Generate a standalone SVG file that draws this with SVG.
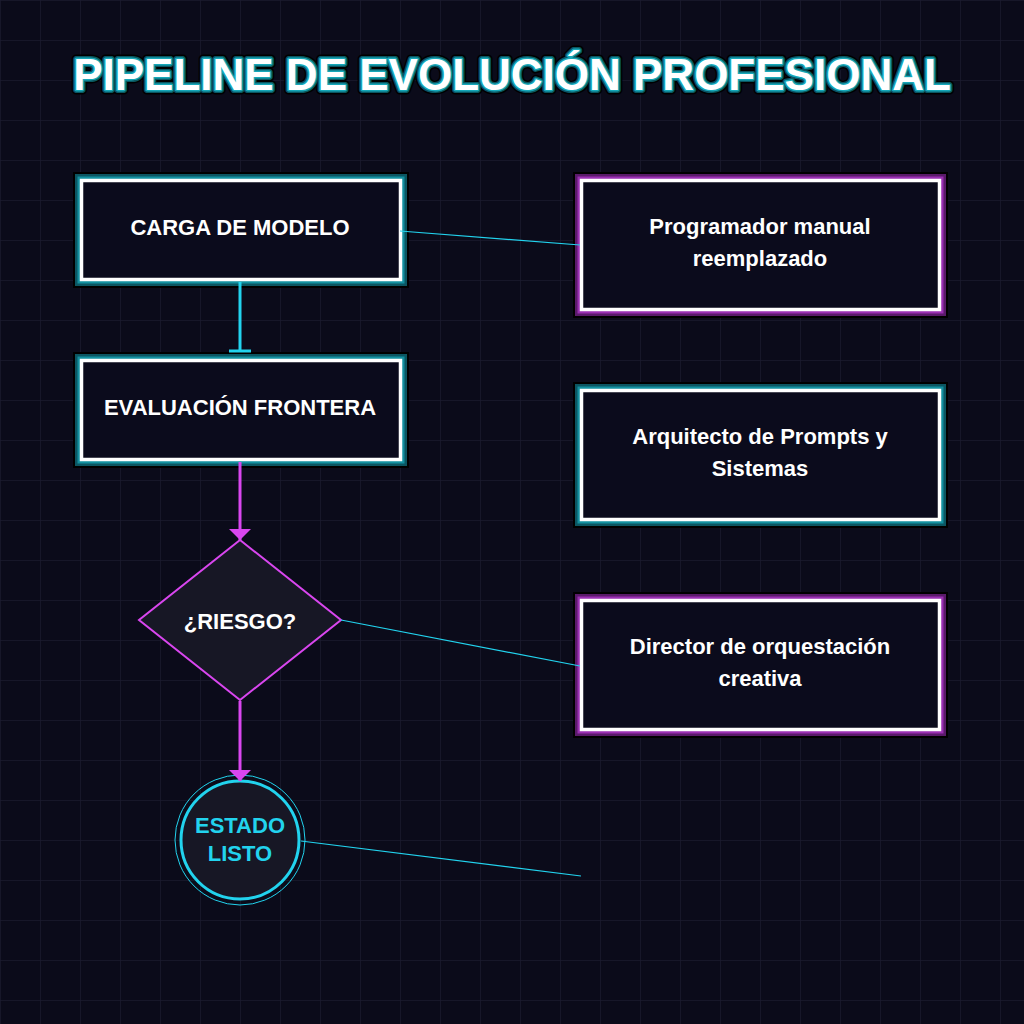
<svg xmlns="http://www.w3.org/2000/svg" xmlns:xlink="http://www.w3.org/1999/xlink" width="1024" height="1024" viewBox="0 0 1024 1024">
<defs>
<pattern id="grid" width="40" height="40" patternUnits="userSpaceOnUse">
<path d="M40 0 L0 0 0 40" fill="none" stroke="#1a1a2e" stroke-width="1.5"/>
</pattern>
<marker id="tee" markerWidth="22" markerHeight="4" refX="11" refY="2" markerUnits="userSpaceOnUse" viewBox="0 0 22 4">
<rect x="0" y="0.5" width="22" height="3" fill="#22d3ee"/>
</marker>
<marker id="arrowM" markerWidth="22" markerHeight="12" refX="11" refY="11" markerUnits="userSpaceOnUse" viewBox="0 0 22 12">
<path d="M0 0 L22 0 L11 11 Z" fill="#d946ef"/>
</marker>
<text id="titleText" x="512" y="90" text-anchor="middle">PIPELINE DE EVOLUCIÓN PROFESIONAL</text>
</defs>
<style>
.title{font-family:"Liberation Sans",Arial,sans-serif;font-weight:bold;font-size:44px}
.lbl{font-family:"Liberation Sans",Arial,sans-serif;font-weight:bold;font-size:22px;fill:#ffffff;text-anchor:middle;dominant-baseline:central}
.o1{fill:none;stroke:#000000;stroke-width:17}
.t2{fill:none;stroke:#0b5662;stroke-width:13}
.t3{fill:none;stroke:#13909f;stroke-width:8}
.p2{fill:none;stroke:#5a1a6a;stroke-width:13}
.p3{fill:none;stroke:#9a2fb2;stroke-width:8}
.in{fill:#0b0b1c;stroke:#ffffff;stroke-width:3.5}
.thin{fill:none;stroke:#22d3ee;stroke-width:1.2}
</style>
<rect width="1024" height="1024" fill="#0b0b1a"/>
<rect width="1024" height="1024" fill="url(#grid)"/>

<g id="title" class="title">
<use xlink:href="#titleText" fill="#000" stroke="#000" stroke-width="9" stroke-linejoin="round"/>
<use xlink:href="#titleText" fill="#0b5662" stroke="#0b5662" stroke-width="6" stroke-linejoin="round"/>
<use xlink:href="#titleText" fill="#16a7b8" stroke="#16a7b8" stroke-width="3" stroke-linejoin="round"/>
<use xlink:href="#titleText" fill="#ffffff"/>
</g>

<g id="carga">
<rect class="o1" x="81.5" y="180.5" width="319" height="99"/>
<rect class="t2" x="81.5" y="180.5" width="319" height="99"/>
<rect class="t3" x="81.5" y="180.5" width="319" height="99"/>
<rect class="in" x="81.5" y="180.5" width="319" height="99"/>
<text class="lbl" x="240" y="227">CARGA DE MODELO</text>
</g>

<g id="evaluacion">
<rect class="o1" x="81.5" y="360.5" width="319" height="99"/>
<rect class="t2" x="81.5" y="360.5" width="319" height="99"/>
<rect class="t3" x="81.5" y="360.5" width="319" height="99"/>
<rect class="in" x="81.5" y="360.5" width="319" height="99"/>
<text class="lbl" x="240" y="407">EVALUACIÓN FRONTERA</text>
</g>

<g id="riesgo">
<polygon points="240,540 341,620 240,700 139,620" fill="#171725" stroke="#d946ef" stroke-width="2"/>
<text class="lbl" x="240" y="621">¿RIESGO?</text>
</g>

<g id="estado">
<circle cx="240" cy="840" r="65" fill="none" stroke="#22d3ee" stroke-width="1"/>
<circle cx="240" cy="840" r="59" fill="#171725" stroke="#22d3ee" stroke-width="3"/>
<text class="lbl" x="240" y="825" style="fill:#22d3ee">ESTADO</text>
<text class="lbl" x="240" y="853" style="fill:#22d3ee">LISTO</text>
</g>

<g id="programador">
<rect class="o1" x="581.5" y="180.5" width="358" height="129"/>
<rect class="p2" x="581.5" y="180.5" width="358" height="129"/>
<rect class="p3" x="581.5" y="180.5" width="358" height="129"/>
<rect class="in" x="581.5" y="180.5" width="358" height="129"/>
<text class="lbl" x="760" y="226">Programador manual</text>
<text class="lbl" x="760" y="258">reemplazado</text>
</g>

<g id="arquitecto">
<rect class="o1" x="581.5" y="390.5" width="358" height="129"/>
<rect class="t2" x="581.5" y="390.5" width="358" height="129"/>
<rect class="t3" x="581.5" y="390.5" width="358" height="129"/>
<rect class="in" x="581.5" y="390.5" width="358" height="129"/>
<text class="lbl" x="760" y="436">Arquitecto de Prompts y</text>
<text class="lbl" x="760" y="468">Sistemas</text>
</g>

<g id="director">
<rect class="o1" x="581.5" y="600.5" width="358" height="129"/>
<rect class="p2" x="581.5" y="600.5" width="358" height="129"/>
<rect class="p3" x="581.5" y="600.5" width="358" height="129"/>
<rect class="in" x="581.5" y="600.5" width="358" height="129"/>
<text class="lbl" x="760" y="646">Director de orquestación</text>
<text class="lbl" x="760" y="678">creativa</text>
</g>

<g id="connectors">
<line x1="240" y1="282" x2="240" y2="351" stroke="#22d3ee" stroke-width="3" marker-end="url(#tee)"/>
<line x1="240" y1="462" x2="240" y2="540" stroke="#d946ef" stroke-width="3" marker-end="url(#arrowM)"/>
<line x1="240" y1="701" x2="240" y2="781" stroke="#d946ef" stroke-width="3" marker-end="url(#arrowM)"/>
<line class="thin" x1="400" y1="231" x2="580" y2="245"/>
<line class="thin" x1="341" y1="620" x2="580" y2="666"/>
<line class="thin" x1="301" y1="841" x2="581" y2="876"/>
</g>
</svg>
